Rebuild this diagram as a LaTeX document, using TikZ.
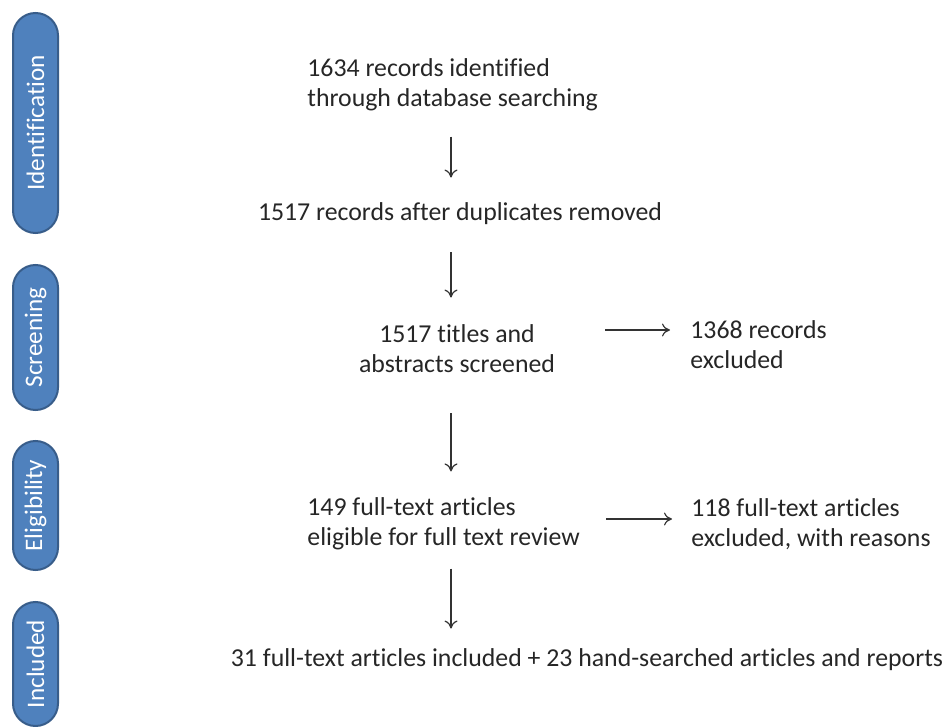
\documentclass[tikz,border=0pt]{standalone}
\usepackage{fontspec}
\setmainfont{Carlito}[Ligatures=NoCommon]
\usepackage{tikz}
\usetikzlibrary{shapes.misc,arrows.meta,calc}
\definecolor{stagefill}{RGB}{79,129,189}
\definecolor{stageline}{RGB}{56,93,138}
\tikzset{
  stage/.style={rounded rectangle, draw=stageline, line width=1pt, fill=stagefill, text=white,
    rotate=90, minimum height=22.5pt, inner sep=0pt,
    font=\fontsize{12.6}{14}\selectfont},
  txt/.style={inner sep=0pt, text=black!85, font=\fontsize{12.9}{15}\selectfont},
  flow/.style={-{To[length=4pt,width=6.5pt]}, black!80, line width=0.6pt},
}

\begin{document}
\begin{tikzpicture}[x=0.5pt,y=-0.5pt]
            \useasboundingbox (0,0) rectangle (944,727);

            % Phasen links:
            \node[stage, minimum width=110pt] (ident) at (35.5,123) {Identification};
            \node[stage, minimum width=72.5pt] (screen) at (35.5,337.5) {Screening};
            \node[stage, minimum width=64.5pt] (elig) at (35.5,505.5) {Eligibility};
            \node[stage, minimum width=62pt] (incl) at (35.5,664) {Included};

            % Kaestchen:
            \node[txt, align=left, anchor=west] (found) at (307,85) {1634 records identified\\through database searching};
            \node[txt] (dup) at (460,214) {1517 records after duplicates removed};
            \node[txt, align=center] (scr) at (457,349) {1517 titles and\\abstracts screened};
            \node[txt, align=left, anchor=west] (excl) at (690,345) {1368 records\\excluded};
            \node[txt, align=left, anchor=west] (full) at (307,524) {149 full-text articles\\eligible for full text review};
            \node[txt, align=left, anchor=west] (fexcl) at (691,524) {118 full-text articles\\excluded, with reasons};
            \node[txt] (final) at (587,660) {31 full-text articles included + 23 hand-searched articles and reports};

            % Pfeile:
            \coordinate (col) at (451,0);
            \draw[flow, shorten <=12.5pt, shorten >=12.5pt] (found.south -| col) -- (dup.north -| col);
            \draw[flow, shorten <=13.5pt, shorten >=13.5pt] (dup.south -| col) -- (scr.north -| col);
            \draw[flow, shorten <=20pt, shorten >=13pt] (scr.south -| col) -- (full.north -| col);
            \draw[flow, shorten <=9pt, shorten >=10pt] (full.south -| col) -- (final.north -| col);
            \draw[flow, shorten <=25pt, shorten >=10pt] ($(scr.east |- excl.west)+(0,-15)$) -- ($(excl.west)+(0,-15)$);
            \draw[flow, shorten <=13pt, shorten >=9.5pt] ($(full.east)+(0,-5)$) -- ($(fexcl.west)+(0,-5)$);

      \end{tikzpicture}
\end{document}
